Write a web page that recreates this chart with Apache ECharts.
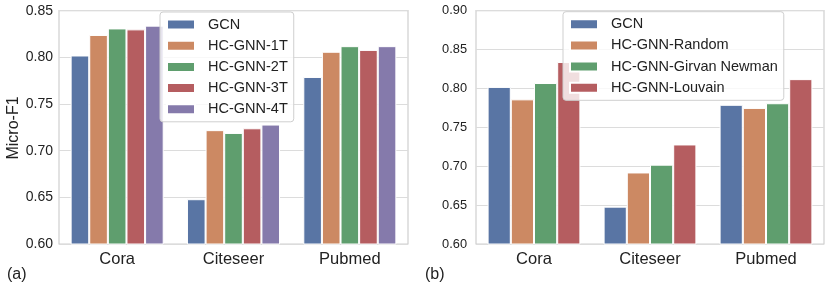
<!DOCTYPE html>
<html>
<head>
<meta charset="utf-8">
<script src="https://cdn.jsdelivr.net/npm/echarts@6/dist/echarts.min.js"></script>
<style>
html,body{margin:0;padding:0;background:#fff;}
#chart{width:831px;height:289px;}
</style>
</head>
<body>
<div id="chart"></div>
<script>
const categories = ['Cora', 'Citeseer', 'Pubmed'];
// Panel (a)
const namesA = ['GCN', 'HC-GNN-1T', 'HC-GNN-2T', 'HC-GNN-3T', 'HC-GNN-4T'];
const gcnA = [0.802, 0.648, 0.779];
const t1 = [0.824, 0.722, 0.806];
const t2 = [0.831, 0.719, 0.812];
const t3 = [0.830, 0.724, 0.808];
const t4 = [0.834, 0.728, 0.812];
// Panel (b)
const namesB = ['GCN', 'HC-GNN-Random', 'HC-GNN-Girvan Newman', 'HC-GNN-Louvain'];
const gcnB = [0.802, 0.648, 0.779];
const randomB = [0.786, 0.692, 0.775];
const girvanB = [0.807, 0.702, 0.781];
const louvainB = [0.834, 0.728, 0.812];
const ticksA = [0.60, 0.65, 0.70, 0.75, 0.80, 0.85];
const ticksB = [0.60, 0.65, 0.70, 0.75, 0.80, 0.85, 0.90];

const colors = ['#5975a4', '#cc8963', '#5f9e6e', '#b55d60', '#857aab'];
const FONT = 'Liberation Sans, Arial, sans-serif';
const TXT = '#222222';
const GRIDC = '#dcdcdc';

const chart = echarts.init(document.getElementById('chart'));

function xAxis(idx) {
  return {
    type: 'category', gridIndex: idx, data: categories,
    axisTick: {show: false},
    axisLine: {show: false},
    axisLabel: {fontSize: 16.5, color: TXT, fontFamily: FONT, margin: 7}
  };
}
function yAxis(idx, ticks, fs, margin) {
  return {
    type: 'value', gridIndex: idx,
    min: ticks[0], max: ticks[ticks.length - 1], interval: 0.05,
    axisLine: {show: false}, axisTick: {show: false},
    axisLabel: {fontSize: fs, color: TXT, fontFamily: FONT, margin: margin,
      formatter: v => v.toFixed(2)},
    splitLine: {show: true, lineStyle: {color: GRIDC, width: 1}}
  };
}
function bar(name, data, color, ax) {
  return {
    type: 'bar', name: name, data: data, xAxisIndex: ax, yAxisIndex: ax,
    barGap: '0%', barCategoryGap: '20%',
    itemStyle: {color: color, borderColor: '#fff', borderWidth: 1},
    emphasis: {disabled: true}
  };
}
function legend(names, left, top) {
  return {
    data: names, orient: 'vertical', left: left, top: top,
    backgroundColor: 'rgba(255,255,255,0.8)',
    borderColor: '#cfcfcf', borderWidth: 1, borderRadius: 3,
    padding: [5, 6, 5, 6],
    itemWidth: 28, itemHeight: 10, itemGap: 6.2,
    icon: 'rect',
    textStyle: {fontSize: 14.5, color: TXT, fontFamily: FONT, padding: [0, 0, 0, 8]}
  };
}

const option = {
  animation: false,
  backgroundColor: '#fff',
  grid: [
    {left: 59, right: 423, top: 10.7, bottom: 45, show: true, borderColor: '#cfcfcf', borderWidth: 1.2, backgroundColor: 'transparent'},
    {left: 476, right: 7, top: 10.7, bottom: 45, show: true, borderColor: '#cfcfcf', borderWidth: 1.2, backgroundColor: 'transparent'}
  ],
  xAxis: [xAxis(0), xAxis(1)],
  yAxis: [yAxis(0, ticksA, 14, 6), yAxis(1, ticksB, 12.8, 9)],
  legend: [legend(namesA, 160, 12), legend(namesB, 563, 11.7)],
  series: [
    bar(namesA[0], gcnA, colors[0], 0),
    bar(namesA[1], t1, colors[1], 0),
    bar(namesA[2], t2, colors[2], 0),
    bar(namesA[3], t3, colors[3], 0),
    bar(namesA[4], t4, colors[4], 0),
    bar(namesB[0], gcnB, colors[0], 1),
    bar(namesB[1], randomB, colors[1], 1),
    bar(namesB[2], girvanB, colors[2], 1),
    bar(namesB[3], louvainB, colors[3], 1)
  ],
  graphic: [
    {type: 'text', x: 13.5, y: 128, rotation: Math.PI / 2,
      style: {text: 'Micro-F1', fontSize: 16, fill: TXT, fontFamily: FONT, align: 'center', verticalAlign: 'middle'}},
    {type: 'text', x: 7, y: 275,
      style: {text: '(a)', fontSize: 16, fill: TXT, fontFamily: FONT, align: 'left', verticalAlign: 'middle'}},
    {type: 'text', x: 425, y: 275,
      style: {text: '(b)', fontSize: 16, fill: TXT, fontFamily: FONT, align: 'left', verticalAlign: 'middle'}}
  ]
};
chart.setOption(option);
</script>
</body>
</html>
